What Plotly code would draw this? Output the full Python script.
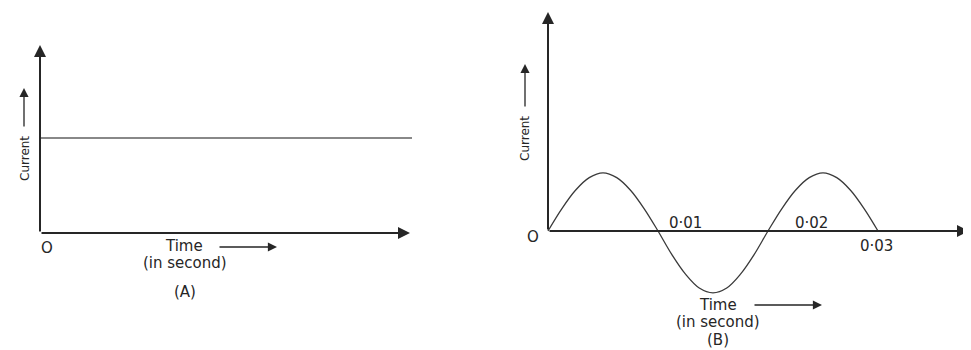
import plotly.graph_objects as go

# panel (A): direct current, constant over time
dc_time = [0.0, 0.040]
dc_current = [1.0, 1.0]

# panel (B): alternating current
ac_time = [0.0, 0.00125, 0.0025, 0.00375, 0.005, 0.00625, 0.0075, 0.00875,
           0.01, 0.01125, 0.0125, 0.01375, 0.015, 0.01625, 0.0175, 0.01875,
           0.02, 0.02125, 0.0225, 0.02375, 0.025, 0.02625, 0.0275, 0.02875, 0.03]
ac_current = [0.0, 0.37, 0.68, 0.89, 0.97, 0.89, 0.68, 0.37,
              0.0, -0.39, -0.72, -0.95, -1.03, -0.95, -0.72, -0.39,
              0.0, 0.37, 0.68, 0.89, 0.97, 0.89, 0.68, 0.37, 0.0]

ac_ticks = ["0·01", "0·02", "0·03"]
ac_tick_vals = [0.01, 0.02, 0.03]

# the page body has an 8px margin, so the figure starts at (8, 8)
OFF = 8
WIN_W, WIN_H = 971, 350
W, H = WIN_W - OFF, WIN_H - OFF
INK = "#262626"
FONT = "DejaVu Sans"


def px(x):
    return (x - OFF) / W


def py(y):
    return 1 - (y - OFF) / H


fig = go.Figure()

fig.add_trace(go.Scatter(x=dc_time, y=dc_current, mode="lines",
                         line=dict(color="#606060", width=1.4),
                         xaxis="x", yaxis="y", hoverinfo="skip"))
fig.add_trace(go.Scatter(x=ac_time, y=ac_current, mode="lines",
                         line=dict(color="#3a3a3a", width=1.3, shape="spline", smoothing=1.0),
                         xaxis="x2", yaxis="y2", hoverinfo="skip"))

hidden = dict(showgrid=False, zeroline=False, showline=False,
              showticklabels=False, ticks="", fixedrange=True)

# axis A: origin at window pixel (40, 233), 9300 px per second, 95 px per unit current
# axis B: origin at window pixel (548, 231), 11000 px per second, 60 px per unit current
fig.update_layout(
    width=W, height=H,
    margin=dict(l=0, r=0, t=0, b=0),
    paper_bgcolor="white", plot_bgcolor="white",
    showlegend=False,
    xaxis=dict(domain=[0, px(466)], range=[(OFF - 40) / 9300, (466 - 40) / 9300], **hidden),
    yaxis=dict(domain=[0, 1], range=[-(WIN_H - 233) / 95, (233 - OFF) / 95], **hidden),
    xaxis2=dict(domain=[px(500), 1], range=[(500 - 548) / 11000, (WIN_W - 548) / 11000],
                anchor="y2", **hidden),
    yaxis2=dict(domain=[0, 1], range=[-(WIN_H - 231) / 60, (231 - OFF) / 60],
                anchor="x2", **hidden),
)

arrow = dict(showarrow=True, arrowhead=2, arrowsize=1.2, arrowwidth=2,
             arrowcolor=INK, text="")

# main axes drawn as arrows
fig.add_annotation(x=0, y=188 / 95, ax=0, ay=0, xref="x", yref="y", axref="x", ayref="y", **arrow)
fig.add_annotation(x=370 / 9300, y=0, ax=0, ay=0, xref="x", yref="y", axref="x", ayref="y", **arrow)
fig.add_annotation(x=0, y=219 / 60, ax=0, ay=0, xref="x2", yref="y2", axref="x2", ayref="y2", **arrow)
fig.add_annotation(x=421 / 11000, y=0, ax=0, ay=0, xref="x2", yref="y2", axref="x2", ayref="y2", **arrow)

small = dict(showarrow=True, arrowhead=2, arrowsize=1.4, arrowwidth=1.3,
             arrowcolor=INK, text="", xref="paper", yref="paper")

# label arrows
fig.add_annotation(x=px(24), y=py(88), ax=0, ay=40, **small)
fig.add_annotation(x=px(277), y=py(247), ax=-59, ay=0, **small)
fig.add_annotation(x=px(525), y=py(64), ax=0, ay=44, **small)
fig.add_annotation(x=px(822), y=py(305), ax=-69, ay=0, **small)


def label(text, x, y, size=15, angle=0):
    fig.add_annotation(x=px(x), y=py(y), xref="paper", yref="paper", text=text,
                       showarrow=False, textangle=angle,
                       xanchor="center", yanchor="middle",
                       font=dict(family=FONT, size=size, color=INK))


# panel (A) texts
label("Current", 25, 159, size=12, angle=-90)
label("O", 47, 248)
label("Time", 184, 246)
label("(in second)", 185, 263)
label("(A)", 185, 292)

# panel (B) texts
label("Current", 525, 139, size=12, angle=-90)
label("O", 533, 237)
tick_pos = [(685, 223), (811, 223), (876, 246)]
for t, v, (x, y) in zip(ac_ticks, ac_tick_vals, tick_pos):
    label(t, x, y)
label("Time", 718, 305)
label("(in second)", 718, 322)
label("(B)", 718, 340)

fig.write_html("out.html")
